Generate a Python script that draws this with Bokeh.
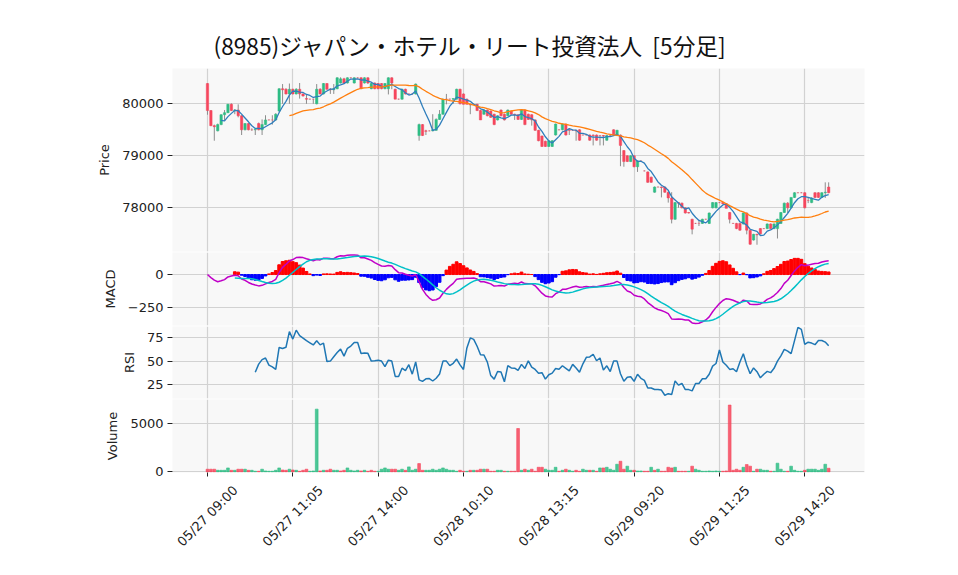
import math
import numpy as np
import pandas as pd
from bokeh.plotting import figure
from bokeh.layouts import column
from bokeh.models import FixedTicker, Range1d, CustomJSTickFormatter
from bokeh.core.properties import value
from bokeh.embed import file_html
from bokeh.resources import INLINE

TITLE = "(8985)ジャパン・ホテル・リート投資法人\u00a0\u00a0[5分足]"

opens = [
    80390, 79870, 79580, 79480, 79600, 79790, 79830, 79990, 79870, 79880,
    79770, 79500, 79620, 79500, 79500, 79620, 79500, 79600, 79690, 79690,
    79690, 79860, 80290, 80280, 80190, 80280, 80190, 80280, 80190, 80100,
    80090, 80090, 80000, 80280, 80190, 80390, 80280, 80270, 80290, 80400,
    80480, 80400, 80500, 80400, 80500, 80500, 80400, 80500, 80290, 80400,
    80390, 80390, 80290, 80290, 80500, 80280, 80090, 80090, 80280, 80190,
    80190, 80190, 79390, 79600, 79480, 79480, 79480, 79490, 79700, 79800,
    80090, 80090, 80090, 80090, 80280, 80190, 80090, 79990, 79990, 79990,
    79870, 79800, 79880, 79860, 79800, 79690, 79880, 79800, 79770, 79860,
    79800, 79790, 79700, 79880, 79800, 79790, 79690, 79490, 79380, 79280,
    79180, 79180, 79400, 79500, 79500, 79610, 79500, 79490, 79490, 79500,
    79400, 79400, 79400, 79400, 79400, 79390, 79390, 79300, 79390, 79500,
    79390, 79400, 79100, 79000, 78890, 79000, 78790, 78900, 78710, 78690,
    78590, 78300, 78400, 78400, 78400, 78300, 78190, 77780, 78100, 78090,
    78000, 77910, 77780, 77700, 77700, 77700, 77780, 77700, 78000, 78000,
    78100, 78100, 78080, 77910, 77700, 77700, 77700, 77690, 77900, 77570,
    77380, 77490, 77600, 77600, 77600, 77690, 77600, 77600, 77700, 77910,
    78090, 78000, 78200, 78290, 78290, 78290, 78140, 78100, 78290, 78290,
    78200, 78290, 78400]

highs = [
    80400, 79880, 79600, 79620, 79800, 79880, 80000, 80010, 79900, 79990,
    79780, 79630, 79630, 79530, 79510, 79640, 79700, 79780, 79700, 79780,
    79820, 80300, 80380, 80300, 80390, 80290, 80300, 80400, 80200, 80190,
    80100, 80100, 80380, 80300, 80400, 80400, 80300, 80380, 80510, 80510,
    80500, 80510, 80510, 80510, 80510, 80510, 80510, 80510, 80400, 80410,
    80400, 80400, 80400, 80510, 80510, 80290, 80100, 80290, 80290, 80200,
    80200, 80390, 79620, 79610, 79500, 79490, 79800, 79720, 79880, 80100,
    80190, 80100, 80100, 80290, 80290, 80200, 80100, 80000, 80000, 80000,
    79880, 79890, 79890, 79870, 79810, 79780, 79890, 79810, 79890, 79870,
    79810, 79800, 79890, 79890, 79810, 79800, 79700, 79500, 79390, 79290,
    79300, 79300, 79620, 79510, 79620, 79620, 79510, 79500, 79500, 79510,
    79410, 79410, 79410, 79410, 79410, 79400, 79400, 79400, 79400, 79510,
    79500, 79410, 79110, 79010, 79010, 79010, 78910, 78910, 78720, 78700,
    78600, 78410, 78410, 78410, 78410, 78310, 78300, 78110, 78110, 78100,
    78010, 77920, 77790, 77710, 77750, 77790, 77790, 77910, 78110, 78110,
    78110, 78110, 78090, 77920, 77710, 77710, 77710, 77910, 77910, 77580,
    77500, 77500, 77610, 77610, 77700, 77700, 77700, 77790, 77920, 78100,
    78110, 78200, 78300, 78300, 78300, 78300, 78200, 78200, 78300, 78300,
    78300, 78490, 78490]

lows = [
    79790, 79570, 79290, 79470, 79590, 79680, 79820, 79860, 79800, 79740,
    79400, 79490, 79490, 79480, 79400, 79490, 79400, 79590, 79680, 79600,
    79680, 79850, 80000, 80180, 80000, 80180, 80180, 80100, 80140, 80000,
    80080, 80000, 79990, 80180, 80180, 80270, 80190, 80190, 80280, 80390,
    80380, 80390, 80490, 80390, 80490, 80280, 80390, 80380, 80280, 80280,
    80280, 80280, 80280, 80180, 80280, 80090, 80080, 80080, 80180, 80180,
    80180, 80180, 79290, 79380, 79400, 79470, 79470, 79480, 79690, 79790,
    79990, 80080, 80000, 80080, 79990, 79990, 79990, 79800, 79980, 79860,
    79690, 79790, 79760, 79730, 79590, 79680, 79760, 79680, 79760, 79790,
    79690, 79690, 79690, 79590, 79690, 79580, 79480, 79280, 79170, 79170,
    79170, 79170, 79390, 79490, 79490, 79390, 79400, 79480, 79290, 79290,
    79390, 79390, 79290, 79200, 79290, 79200, 79200, 79290, 79380, 79390,
    79380, 78800, 78790, 78880, 78880, 78780, 78690, 78890, 78700, 78480,
    78480, 78290, 78390, 78200, 78290, 78100, 77700, 77770, 78000, 77990,
    77890, 77890, 77490, 77690, 77650, 77690, 77770, 77690, 77990, 77990,
    78090, 78070, 77990, 77700, 77690, 77590, 77560, 77680, 77490, 77290,
    77370, 77290, 77490, 77590, 77590, 77590, 77590, 77410, 77690, 77900,
    77900, 77990, 78190, 78280, 78280, 77990, 78090, 78090, 78190, 78190,
    78190, 78190, 78280]

closes = [
    79870, 79580, 79560, 79600, 79790, 79830, 79990, 79870, 79880, 79770,
    79500, 79620, 79500, 79500, 79510, 79500, 79600, 79690, 79690, 79690,
    79800, 80290, 80270, 80190, 80280, 80190, 80280, 80190, 80150, 80090,
    80090, 80090, 80280, 80190, 80390, 80280, 80270, 80290, 80500, 80480,
    80400, 80500, 80500, 80500, 80500, 80290, 80500, 80400, 80390, 80290,
    80290, 80290, 80390, 80500, 80400, 80090, 80090, 80280, 80190, 80190,
    80190, 80380, 79600, 79390, 79470, 79480, 79500, 79700, 79800, 80090,
    80090, 80090, 80100, 80280, 80000, 79990, 79990, 79980, 79990, 79870,
    79690, 79880, 79770, 79740, 79600, 79770, 79770, 79690, 79880, 79800,
    79790, 79700, 79880, 79600, 79700, 79690, 79490, 79290, 79180, 79180,
    79290, 79290, 79610, 79500, 79610, 79400, 79490, 79490, 79480, 79300,
    79400, 79400, 79300, 79390, 79300, 79390, 79380, 79390, 79390, 79400,
    79490, 79200, 78890, 78890, 79000, 78790, 78900, 78900, 78710, 78490,
    78490, 78400, 78400, 78390, 78300, 78190, 77780, 78100, 78090, 78000,
    77900, 77900, 77590, 77700, 77700, 77780, 77780, 77900, 78100, 78100,
    78100, 78080, 77990, 77780, 77700, 77600, 77570, 77900, 77570, 77300,
    77490, 77480, 77500, 77600, 77690, 77600, 77690, 77780, 77910, 78090,
    78000, 78200, 78290, 78290, 78290, 78000, 78140, 78190, 78200, 78200,
    78290, 78300, 78290]

volumes = [
    280, 280, 280, 170, 170, 170, 410, 170, 170, 280,
    280, 280, 170, 170, 70, 70, 280, 100, 70, 70,
    170, 410, 200, 170, 280, 200, 170, 70, 170, 280,
    70, 100, 6480, 100, 170, 170, 280, 170, 170, 100,
    170, 410, 170, 100, 170, 100, 170, 70, 170, 70,
    70, 280, 410, 280, 280, 280, 170, 280, 170, 520,
    170, 280, 860, 170, 170, 170, 280, 170, 280, 410,
    280, 170, 170, 70, 170, 70, 70, 170, 170, 170,
    280, 280, 280, 70, 70, 170, 170, 70, 70, 70,
    70, 4480, 170, 280, 170, 280, 70, 480, 480, 280,
    170, 170, 480, 70, 170, 280, 170, 70, 170, 70,
    280, 170, 170, 170, 70, 410, 410, 480, 280, 170,
    790, 1100, 280, 590, 170, 170, 100, 100, 70, 70,
    480, 170, 280, 70, 70, 480, 410, 480, 70, 70,
    70, 70, 590, 280, 170, 70, 70, 100, 70, 100,
    70, 70, 100, 6900, 170, 280, 170, 480, 760, 590,
    70, 280, 280, 170, 170, 70, 70, 900, 280, 70,
    70, 590, 170, 70, 70, 170, 280, 280, 280, 170,
    280, 790, 380]

tick_pos = [0, 25, 50, 75, 100, 125, 150, 175]
tick_labels = ["05/27 09:00", "05/27 11:05", "05/27 14:00", "05/28 10:10",
               "05/28 13:15", "05/29 09:20", "05/29 11:25", "05/29 14:20"]

UP = "#2ebd85"
DOWN = "#f6465d"
WICK = "#8c8c8c"
PANEL_BG = "#f8f8f8"
GRID = "#d2d2d2"
FONT = "DejaVu Sans"
TXT = "#222222"

n = len(closes)
x = np.arange(n)
o = np.array(opens, float)
h = np.array(highs, float)
l = np.array(lows, float)
c = np.array(closes, float)
cs = pd.Series(c)

ma5 = cs.rolling(5).mean().to_numpy()
ma25 = cs.rolling(25).mean().to_numpy()
ema12 = cs.ewm(span=12, adjust=False).mean()
ema26 = cs.ewm(span=26, adjust=False).mean()
macd = (ema12 - ema26)
signal = macd.rolling(9).mean()
hist = (macd - signal).to_numpy()
macd = macd.to_numpy()
signal = signal.to_numpy()
delta = cs.diff()
gain = delta.clip(lower=0).rolling(14).mean()
loss = (-delta.clip(upper=0)).rolling(14).mean()
rsi = (100 - 100 / (1 + gain / loss)).to_numpy()

x_range = Range1d(-10.25, 192.5)
W = 900
LEFT = 172
RIGHT = W - LEFT - 692


def style(p, yticks, ylabel, overrides=None):
    p.background_fill_color = PANEL_BG
    p.border_fill_color = "white"
    p.outline_line_color = None
    p.min_border_left = LEFT
    p.min_border_right = RIGHT
    p.min_border_top = 0
    p.min_border_bottom = 1
    p.xaxis.visible = False
    p.xgrid.ticker = FixedTicker(ticks=tick_pos)
    p.grid.grid_line_color = GRID
    p.grid.grid_line_width = 1.2
    ax = p.yaxis[0]
    ax.ticker = FixedTicker(ticks=yticks)
    if overrides:
        ax.major_label_overrides = overrides
    ax.axis_line_color = None
    ax.major_tick_line_color = TXT
    ax.major_tick_out = 5
    ax.major_tick_in = 0
    ax.minor_tick_line_color = None
    ax.major_label_standoff = 4
    ax.major_label_text_font = FONT
    ax.major_label_text_font_size = "13px"
    ax.major_label_text_color = TXT
    ax.axis_label = ylabel
    ax.axis_label_text_font = FONT
    ax.axis_label_text_font_size = "13px"
    ax.axis_label_text_font_style = "normal"
    ax.axis_label_text_color = TXT
    ax.axis_label_standoff = 7


# ---------------- price panel ----------------
p1 = figure(width=W, height=68 + 183 + 1, x_range=x_range,
            y_range=Range1d(77160, 80679), output_backend="svg",
            toolbar_location=None, title=TITLE)
style(p1, [78000, 79000, 80000], "Price")
p1.min_border_top = 68
p1.title.text_font = "Noto Sans CJK JP"
p1.title.text_font_size = "22.7px"
p1.title.text_font_style = "normal"
p1.title.text_color = "#111111"
p1.title.align = "left"
p1.title.offset = 41
p1.title.standoff = 14

up = c > o
dn = c < o
dj = c == o
p1.segment(x, h, x, l, color=WICK, line_width=1)
p1.vbar(x=x[up], bottom=o[up], top=c[up], width=0.7, fill_color=UP,
        line_color=UP, line_width=0.5)
p1.vbar(x=x[dn], bottom=c[dn], top=o[dn], width=0.7, fill_color=DOWN,
        line_color=DOWN, line_width=0.5)
p1.segment(x[dj] - 0.35, c[dj], x[dj] + 0.35, c[dj], color=DOWN,
           line_alpha=0.55, line_width=1)
p1.line(x, ma5, color="#2f7ebc", line_width=1.3)
p1.line(x, ma25, color="#ff7f0e", line_width=1.3)

# ---------------- MACD panel ----------------
p2 = figure(width=W, height=73 + 1, x_range=x_range,
            y_range=Range1d(-386, 167), output_backend="svg",
            toolbar_location=None)
style(p2, [-250, 0], "MACD", {-250: "\u2212250"})
pos = hist >= 0
neg = hist < 0
p2.vbar(x=x[pos], bottom=0, top=hist[pos], width=0.8, color="#ff0000")
p2.vbar(x=x[neg], bottom=hist[neg], top=0, width=0.8, color="#0000ff")
p2.line(x, macd, color="#c000c8", line_width=1.5)
p2.line(x, signal, color="#00c0c8", line_width=1.5)

# ---------------- RSI panel ----------------
p3 = figure(width=W, height=72 + 1, x_range=x_range,
            y_range=Range1d(10, 87), output_backend="svg",
            toolbar_location=None)
style(p3, [25, 50, 75], "RSI")
p3.line(x, rsi, color="#1f77b4", line_width=1.5)

# ---------------- Volume panel ----------------
VB = 10
p4 = figure(width=W, height=73 + VB, x_range=x_range,
            y_range=Range1d(-60, 7474), output_backend="svg",
            toolbar_location=None)
style(p4, [0, 5000], "Volume")
p4.min_border_bottom = VB
xa = p4.xaxis[0]
xa.visible = True
xa.ticker = FixedTicker(ticks=tick_pos)
xa.formatter = CustomJSTickFormatter(code="return ''")
xa.major_label_text_font_size = "1px"
xa.major_label_standoff = 0
xa.axis_line_color = None
xa.major_tick_line_color = TXT
xa.major_tick_out = 4
xa.major_tick_in = 0
xa.minor_tick_line_color = None
prev = np.concatenate([[o[0]], c[:-1]])
vup = c >= prev
vol = np.array(volumes, float)
p4.vbar(x=x[vup], bottom=0, top=vol[vup], width=0.8, fill_color=UP,
        fill_alpha=0.85, line_color=UP, line_width=0.6)
p4.vbar(x=x[~vup], bottom=0, top=vol[~vup], width=0.8, fill_color=DOWN,
        fill_alpha=0.85, line_color=DOWN, line_width=0.6)

# ---------------- rotated time labels ----------------
H5 = 80
p5 = figure(width=W, height=H5, x_range=x_range, y_range=Range1d(0, H5),
            output_backend="svg", toolbar_location=None)
p5.min_border_left = LEFT
p5.min_border_right = RIGHT
p5.min_border_top = 0
p5.min_border_bottom = 0
p5.axis.visible = False
p5.grid.visible = False
p5.outline_line_color = None
p5.background_fill_color = "white"
p5.border_fill_color = "white"
p5.text(x=tick_pos, y=[H5 - 33.5] * len(tick_pos), text=tick_labels,
        angle=math.pi / 4, text_align="center", text_baseline="middle",
        text_font=value(FONT), text_font_size=value("13px"),
        text_color=TXT)

layout = column(p1, p2, p3, p4, p5, spacing=0)
open("out.html", "w").write(file_html(layout, INLINE))
